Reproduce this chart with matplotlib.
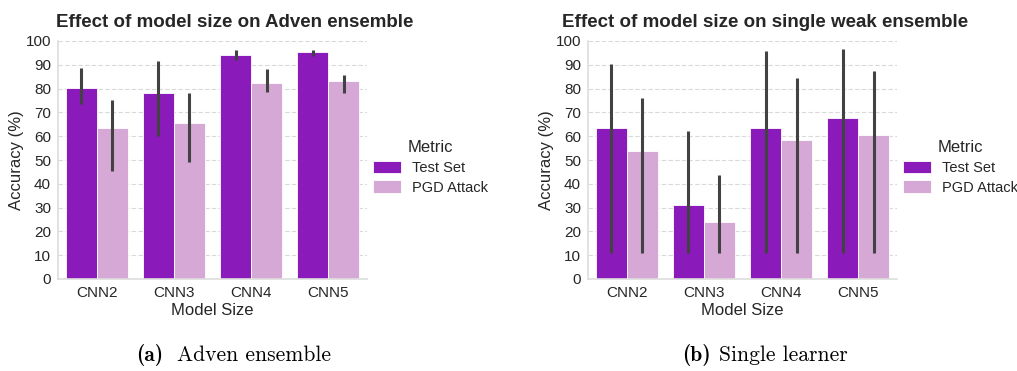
import numpy as np
import matplotlib
matplotlib.use("Agg")
import matplotlib.pyplot as plt

categories = ["CNN2", "CNN3", "CNN4", "CNN5"]
metrics = ["Test Set", "PGD Attack"]

# Left: Adven ensemble
adv_test = [80.4, 78.0, 94.0, 95.2]
adv_test_lo = [73.5, 60.1, 92.0, 93.8]
adv_test_hi = [88.7, 91.5, 96.1, 96.2]
adv_pgd = [63.4, 65.4, 82.5, 83.2]
adv_pgd_lo = [45.4, 49.2, 78.6, 78.3]
adv_pgd_hi = [75.2, 78.3, 88.2, 85.9]

# Right: single weak ensemble
sgl_test = [63.4, 31.2, 63.4, 67.6]
sgl_test_lo = [10.8, 10.8, 10.8, 10.8]
sgl_test_hi = [90.3, 62.0, 95.8, 96.5]
sgl_pgd = [53.9, 24.1, 58.4, 60.6]
sgl_pgd_lo = [10.8, 10.8, 10.8, 10.8]
sgl_pgd_hi = [76.1, 43.7, 84.6, 87.5]

titles = ["Effect of model size on Adven ensemble",
          "Effect of model size on single weak ensemble"]
captions = [("(a)", "Adven ensemble"), ("(b)", "Single learner")]

colors = ["#8a1ab9", "#d5a8d5"]
SANS = ["Liberation Sans", "DejaVu Sans"]
TXT = "#262626"

fig = plt.figure(figsize=(10.17, 3.71), dpi=100)
positions = [[58 / 1017, 1 - 279 / 371, 309 / 1017, 238 / 371],
             [588 / 1017, 1 - 279 / 371, 309 / 1017, 238 / 371]]

datasets = [
    [(adv_test, adv_test_lo, adv_test_hi), (adv_pgd, adv_pgd_lo, adv_pgd_hi)],
    [(sgl_test, sgl_test_lo, sgl_test_hi), (sgl_pgd, sgl_pgd_lo, sgl_pgd_hi)],
]
cap_pos = [(136, 177), (682, 719)]

x = np.arange(len(categories))
w = 0.4
for i, pos in enumerate(positions):
    ax = fig.add_axes(pos)
    handles = []
    for j, (vals, lo, hi) in enumerate(datasets[i]):
        xs = x - 0.2 + j * w
        b = ax.bar(xs, vals, width=w, color=colors[j], edgecolor="white",
                   linewidth=0.6, label=metrics[j], zorder=2)
        handles.append(b)
        ax.vlines(xs, lo, hi, color="#424242", linewidth=2.2, zorder=3)
    ax.set_ylim(0, 100)
    ax.set_xlim(-0.5, 3.5)
    ax.set_yticks(np.arange(0, 101, 10))
    ax.set_xticks(x)
    ax.set_xticklabels(categories, family=SANS, fontsize=11, color=TXT)
    for lab in ax.get_yticklabels():
        lab.set_family(SANS)
        lab.set_fontsize(11)
        lab.set_color(TXT)
    ax.tick_params(length=0, pad=5)
    ax.yaxis.grid(True, linestyle=(0, (4, 2)), color="#d9d9d9", linewidth=0.8, zorder=0)
    ax.set_axisbelow(True)
    for s in ["top", "right"]:
        ax.spines[s].set_visible(False)
    for s in ["left", "bottom"]:
        ax.spines[s].set_color("#dddddd")
        ax.spines[s].set_linewidth(1.2)
    ax.set_xlabel("Model Size", family=SANS, fontsize=12, color=TXT, labelpad=2)
    ax.set_ylabel("Accuracy (%)", family=SANS, fontsize=12, color=TXT, labelpad=1)
    ax.set_title(titles[i], family=SANS, fontsize=13.5, fontweight="bold",
                 color=TXT, x=0.573, pad=10)
    leg = ax.legend(handles=handles, labels=metrics, title="Metric",
                    loc="center left", bbox_to_anchor=(1.0, 0.47), frameon=False,
                    prop={"family": SANS, "size": 10.5}, handlelength=1.9,
                    handleheight=0.9, labelspacing=0.4, handletextpad=0.8,
                    borderaxespad=0.2, borderpad=0.2)
    leg.get_title().set_family(SANS)
    leg.get_title().set_fontsize(12)
    leg.get_title().set_color(TXT)
    for t in leg.get_texts():
        t.set_color(TXT)

    # Caption below
    tx, cx = cap_pos[i]
    tag, cap = captions[i]
    fig.text(tx / 1017, 1 - 355 / 371, tag, family="cmb10", fontsize=15.5,
             ha="left", va="center", color="black")
    fig.text(cx / 1017, 1 - 355 / 371, cap, family="cmr10", fontsize=15.5,
             ha="left", va="center", color="black")

fig.savefig("out.png", dpi=100)
